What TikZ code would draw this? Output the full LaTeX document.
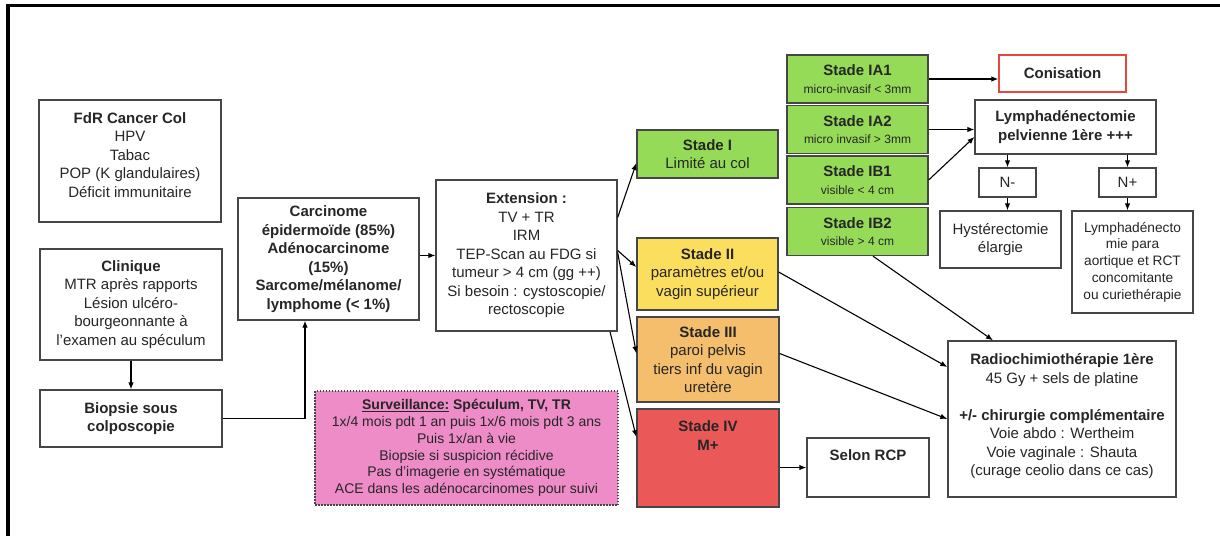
\documentclass[tikz,border=0pt]{standalone}
\usepackage{fontspec}
\setmainfont{Liberation Sans}
\usetikzlibrary{arrows.meta}

\definecolor{grisbord}{RGB}{70,70,70}
\definecolor{vertstade}{RGB}{150,219,88}
\definecolor{jaunestade}{RGB}{252,222,94}
\definecolor{orangestade}{RGB}{245,190,108}
\definecolor{rougestade}{RGB}{234,88,88}
\definecolor{rosesuivi}{RGB}{238,140,200}
\definecolor{rougecadre}{RGB}{232,72,60}

\newcommand{\petit}{\fontsize{12}{14}\selectfont}

\tikzset{
	boite/.style={draw=grisbord, line width=1.3pt, fill=white, align=center,
		inner sep=0pt, text=black!85, font=\fontsize{15}{18.5}\selectfont},
	gras/.style={font=\fontsize{15}{18.5}\selectfont\bfseries},
	taille/.style 2 args={minimum width=#1, minimum height=#2},
	fleche/.style={->, >={Latex[length=7pt,width=5.5pt]}, line width=1.1pt},
}

\begin{document}
\begin{tikzpicture}[x=1pt,y=-1pt]
\useasboundingbox (0,0) rectangle (1220,536);
% cadre
\draw[line width=3.5pt] (8,536) -- (8,5.5) -- (1220,5.5);

% colonne de gauche
\node[boite,taille={182pt}{122pt},text depth=12pt] (fdr) at (130,161)
	{\textbf{FdR Cancer Col}\\HPV\\Tabac\\POP (K glandulaires)\\Déficit immunitaire};
\node[boite,taille={182pt}{111pt}] (clinique) at (131,304.5)
	{\textbf{Clinique}\\MTR après rapports\\Lésion ulcéro-\\bourgeonnante à\\l’examen au spéculum};
\node[boite,gras,taille={182pt}{57pt}] (biopsie) at (131,418.5)
	{Biopsie sous\\colposcopie};
\node[boite,gras,taille={181pt}{122pt}] (carcinome) at (328.5,259)
	{Carcinome\\épidermoïde (85\%)\\Adénocarcinome\\(15\%)\\Sarcome/mélanome/\\lymphome (< 1\%)};
\node[boite,taille={181pt}{151pt}] (extension) at (526.5,255.5)
	{\textbf{Extension :}\\TV + TR\\IRM\\TEP-Scan au FDG si\\tumeur > 4 cm (gg ++)\\Si besoin : cystoscopie/\\rectoscopie};
\node[boite,fill=rosesuivi,dash pattern=on 1.5pt off 1.5pt,taille={303pt}{114pt},
	font=\fontsize{14}{16.8}\selectfont] (surveillance) at (466.5,448)
	{\textbf{\underline{Surveillance:} Spéculum, TV, TR}\\1x/4 mois pdt 1 an puis 1x/6 mois pdt 3 ans\\Puis 1x/an à vie\\Biopsie si suspicion récidive\\Pas d’imagerie en systématique\\ACE dans les adénocarcinomes pour suivi};

% stades
\node[boite,fill=vertstade,taille={141pt}{48pt}] (stadeI) at (707.5,154)
	{\textbf{Stade I}\\Limité au col};
\node[boite,fill=jaunestade,taille={141pt}{72pt}] (stadeII) at (707.5,274)
	{\textbf{Stade II}\\paramètres et/ou\\vagin supérieur};
\node[boite,fill=orangestade,taille={142pt}{85pt}] (stadeIII) at (708,359.5)
	{\textbf{Stade III}\\paroi pelvis\\tiers inf du vagin\\uretère};
\node[boite,gras,fill=rougestade,taille={142pt}{98pt},text depth=44.5pt] (stadeIV) at (708,458)
	{Stade IV\\M+};
\foreach \Yc/\Nom/\Titre/\Sous in
{79/ia1/IA1/micro-invasif < 3mm, 129.5/ia2/IA2/micro invasif > 3mm,
 180/ib1/IB1/visible < 4 cm, 231.5/ib2/IB2/visible > 4 cm}
{
	\node[boite,fill=vertstade,taille={141pt}{48pt}] (\Nom) at (857.5,\Yc)
		{\textbf{Stade \Titre}\\[-1pt]{\petit \Sous}};
}

% traitements
\node[boite,gras,draw=rougecadre,taille={127pt}{37pt}] (conisation) at (1062.5,73.5) {Conisation};
\node[boite,gras,taille={181pt}{54pt}] (lymph) at (1065.5,127)
	{Lymphadénectomie\\pelvienne 1ère +++};
\node[boite,taille={57pt}{29pt}] (nmoins) at (1007.5,182.5) {N-};
\node[boite,taille={57pt}{29pt}] (nplus) at (1127.5,182.5) {N+};
\node[boite,taille={121pt}{57pt}] (hyst) at (1000.5,239.5) {Hystérectomie\\élargie};
\node[boite,taille={121pt}{102pt},font=\fontsize{13.7}{16.7}\selectfont] (lymphaort) at (1132.5,262)
	{Lymphadénecto\\mie para\\aortique et RCT\\concomitante\\ou curiethérapie};
\node[boite,taille={228pt}{156pt},text depth=9pt] (radio) at (1062,419)
	{\textbf{Radiochimiothérapie 1ère}\\45 Gy + sels de platine\\[18.5pt]\textbf{+/- chirurgie complémentaire}\\Voie abdo : Wertheim\\Voie vaginale : Shauta\\(curage ceolio dans ce cas)};
\node[boite,gras,taille={122pt}{59pt},text depth=24pt] (rcp) at (868,467.5) {Selon RCP};

% fleches
\draw[fleche] (clinique) -- (biopsie);
\draw[fleche] (biopsie.east) -| ([xshift=-23.5pt]carcinome.south);
\draw[fleche] (carcinome.east |- extension.west) -- (extension.west);
\draw[fleche] ([yshift=38pt]extension.east) -- ([yshift=-9pt]stadeI.west);
\draw[fleche] ([yshift=5pt]extension.east) -- ([yshift=7pt]stadeII.west);
\draw[fleche] ([yshift=3pt]extension.east) -- ([yshift=6pt]stadeIII.west);
\draw[fleche] ([xshift=83.5pt]extension.south) -- ([yshift=21pt]stadeIV.west);
\draw[fleche] (stadeIV.east |- rcp.west) -- (rcp.west);
\draw[fleche] (ia1.east) -- (conisation.west |- ia1.east);
\draw[fleche] (ia2.east) -- (lymph.west |- ia2.east);
\draw[fleche] (ib1.east) -- ([yshift=-10pt]lymph.west);
\draw[fleche] (lymph.south -| nmoins) -- (nmoins.north);
\draw[fleche] (lymph.south -| nplus) -- (nplus.north);
\draw[fleche] (nmoins.south) -- (nmoins.south |- hyst.north);
\draw[fleche] (nplus.south) -- (nplus.south |- lymphaort.north);
\draw[fleche] ([xshift=15.5pt]ib2.south) -- ([xshift=-69pt]radio.north);
\draw[fleche] ([yshift=2pt]stadeII.east) -- ([yshift=52pt]radio.west);
\draw[fleche] ([yshift=6pt]stadeIII.east) -- (radio.west);
\end{tikzpicture}
\end{document}
